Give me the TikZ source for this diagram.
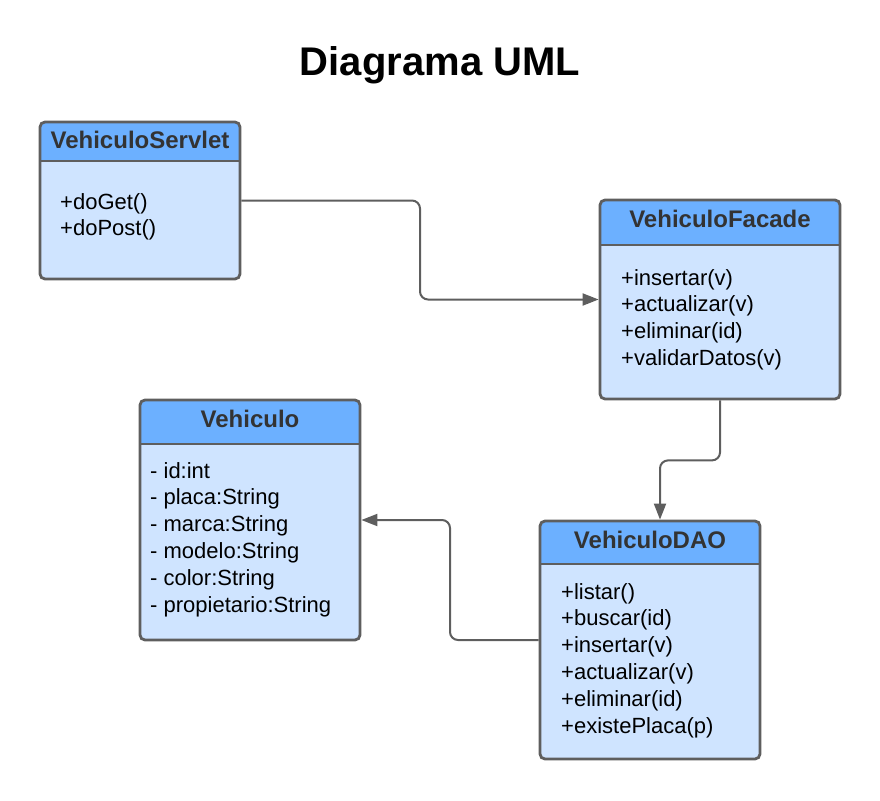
\documentclass[tikz,border=0pt]{standalone}
\usepackage{fontspec}
\setmainfont{Liberation Sans}
\usetikzlibrary{arrows.meta, calc, positioning}
\definecolor{headBlue}{RGB}{108,176,255}
\definecolor{bodyBlue}{RGB}{207,228,255}
\definecolor{lineGray}{RGB}{94,94,94}
\definecolor{nameGray}{RGB}{51,51,51}

\begin{document}
\begin{tikzpicture}[x=1pt, y=-1pt, >={Triangle[length=16pt, width=12pt]},
    classbox/.style={draw=lineGray, line width=2.8pt, fill=bodyBlue, rounded corners=5pt, inner sep=0pt,
        path picture={
            \fill[headBlue, sharp corners] (path picture bounding box.north west) rectangle ([yshift=-#1]path picture bounding box.north east);
            \draw[lineGray, line width=2.8pt, sharp corners] ([yshift=-#1]path picture bounding box.north west) -- ([yshift=-#1]path picture bounding box.north east);
        }},
    classname/.style={text=nameGray, font=\bfseries\fontsize{24pt}{28pt}\selectfont},
    members/.style={anchor=north west, align=left, inner sep=0pt, font=\fontsize{22pt}{26.8pt}\selectfont},
    conn/.style={draw=lineGray, line width=2pt, rounded corners=8pt, ->}]
    \useasboundingbox (0,0) rectangle (880,800);

    \node[font=\bfseries\fontsize{40pt}{48pt}\selectfont] (title) at (440,65) {Diagrama UML};

    % clases
    \node[classbox=39pt, minimum width=200pt, minimum height=157pt] (servlet) at (140,200.5) {};
    \node[classname] (servletName) at (140,140) {VehiculoServlet};
    \node[members] (servletOps) at (60,193) {+doGet()\\+doPost()};

    \node[classbox=45pt, minimum width=240pt, minimum height=199pt] (facade) at (720,299.5) {};
    \node[classname] (facadeName) at (720,219) {VehiculoFacade};
    \node[members] (facadeOps) at (621,269) {+insertar(v)\\+actualizar(v)\\+eliminar(id)\\+validarDatos(v)};

    \node[classbox=44pt, minimum width=220pt, minimum height=240pt] (vehiculo) at (250,520) {};
    \node[classname] (vehiculoName) at (250,419) {Vehiculo};
    \node[members] (vehiculoAttrs) at (150,462) {- id:int\\- placa:String\\- marca:String\\- modelo:String\\- color:String\\- propietario:String};

    \node[classbox=43pt, minimum width=220pt, minimum height=238pt] (dao) at (650,640) {};
    \node[classname] (daoName) at (650,540) {VehiculoDAO};
    \node[members] (daoOps) at (561,583) {+listar()\\+buscar(id)\\+insertar(v)\\+actualizar(v)\\+eliminar(id)\\+existePlaca(p)};

    % relaciones
    \coordinate (bendA) at ($(servlet.east)!0.5!(facade.west)$);
    \coordinate (bendB) at ($(dao.west)!0.5!(vehiculo.east)$);
    \draw[conn] (servlet.east) -| (bendA) |- (facade.west);
    \draw[conn] (facade.south) -- ++(0,60) -| ([xshift=10pt]dao.north);
    \draw[conn] (dao.west) -| (bendB) |- (vehiculo.east);
\end{tikzpicture}
\end{document}
